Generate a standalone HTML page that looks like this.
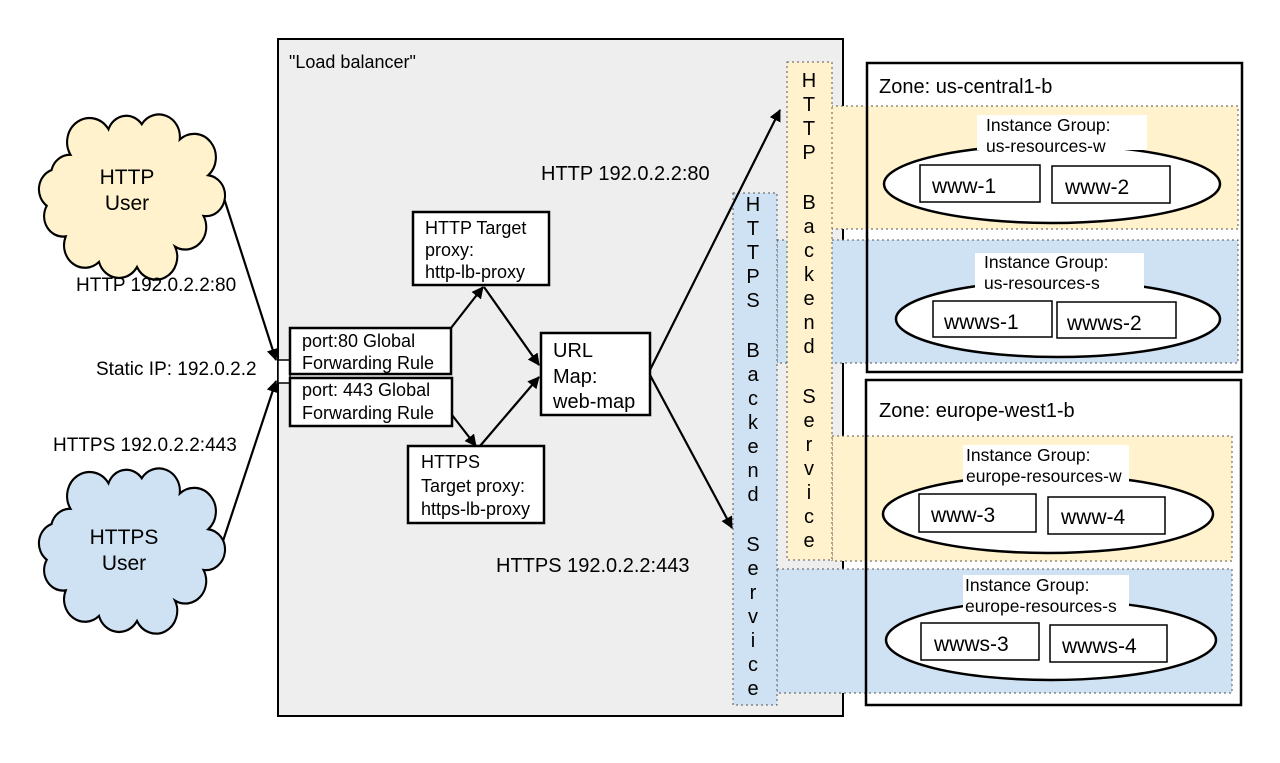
<!DOCTYPE html>
<html><head><meta charset="utf-8"><style>
html,body{margin:0;padding:0;background:#fff;}
svg{display:block;font-family:"Liberation Sans",Arial,sans-serif;}
</style></head><body>
<svg width="1280" height="763" viewBox="0 0 1280 763" xmlns="http://www.w3.org/2000/svg">
<defs>
<marker id="ah" markerWidth="12" markerHeight="12" refX="11" refY="6" orient="auto" markerUnits="userSpaceOnUse">
<path d="M0,0 L12,6 L0,12 z" fill="#000"/></marker>
<path id="cloud" d="M30,40 A22,22 0 0 1 70,15 A20,20 0 0 1 105,10 A22,22 0 0 1 145,25 A22,22 0 0 1 175,60 A20,20 0 0 1 170,100 A22,22 0 0 1 140,130 A22,22 0 0 1 100,150 A22,22 0 0 1 60,145 A22,22 0 0 1 25,120 A20,20 0 0 1 5,90 A20,20 0 0 1 10,55 A20,20 0 0 1 30,40 Z"/>
</defs>
<!-- load balancer -->
<rect x="278" y="39" width="565" height="677" fill="#eeeeee" stroke="#000" stroke-width="2"/>
<text x="289" y="68" font-size="18">"Load balancer"</text>

<!-- zones fill -->
<rect x="867" y="63" width="375" height="309" fill="#fff"/>
<rect x="866" y="380" width="375" height="325" fill="#fff"/>

<!-- bands -->
<rect x="826" y="106" width="412" height="123" fill="#fff2cc" stroke="#555" stroke-dasharray="2,3"/>
<rect x="777" y="240" width="461" height="123" fill="#cfe2f3" stroke="#555" stroke-dasharray="2,3"/>
<rect x="832" y="436" width="400" height="125" fill="#fff2cc" stroke="#555" stroke-dasharray="2,3"/>
<rect x="777" y="569" width="455" height="124" fill="#cfe2f3" stroke="#555" stroke-dasharray="2,3"/>

<!-- zone borders -->
<rect x="867" y="63" width="375" height="309" fill="none" stroke="#000" stroke-width="2.5"/>
<rect x="866" y="380" width="375" height="325" fill="none" stroke="#000" stroke-width="2.5"/>

<!-- strips -->
<rect x="733" y="193" width="44" height="512" fill="#cfe2f3" stroke="#555" stroke-dasharray="2,3"/>
<rect x="787" y="62" width="45" height="498" fill="#fff2cc" stroke="#555" stroke-dasharray="2,3"/>
<g font-size="20" text-anchor="middle">
<text x="809" y="87">H</text><text x="809" y="111">T</text><text x="809" y="135">T</text><text x="809" y="159">P</text>
<text x="809" y="209">B</text><text x="809" y="233">a</text><text x="809" y="257">c</text><text x="809" y="281">k</text><text x="809" y="305">e</text><text x="809" y="329">n</text><text x="809" y="353">d</text>
<text x="809" y="403">S</text><text x="809" y="427">e</text><text x="809" y="451">r</text><text x="809" y="475">v</text><text x="809" y="499">i</text><text x="809" y="523">c</text><text x="809" y="547">e</text>
<text x="753" y="211">H</text><text x="753" y="235">T</text><text x="753" y="259">T</text><text x="753" y="283">P</text><text x="753" y="307">S</text>
<text x="753" y="357">B</text><text x="753" y="381">a</text><text x="753" y="405">c</text><text x="753" y="429">k</text><text x="753" y="453">e</text><text x="753" y="477">n</text><text x="753" y="501">d</text>
<text x="753" y="551">S</text><text x="753" y="575">e</text><text x="753" y="599">r</text><text x="753" y="623">v</text><text x="753" y="647">i</text><text x="753" y="671">c</text><text x="753" y="695">e</text>
</g>

<text x="879" y="93" font-size="20">Zone: us-central1-b</text>
<text x="879" y="417" font-size="20">Zone: europe-west1-b</text>

<!-- instance groups -->
<g stroke="#000" stroke-width="2.5" fill="#fff">
<ellipse cx="1052" cy="184" rx="168" ry="39"/>
<ellipse cx="1058" cy="319" rx="162" ry="38"/>
<ellipse cx="1048" cy="514" rx="165" ry="39"/>
<ellipse cx="1051" cy="640" rx="165" ry="40"/>
</g>
<g fill="#fff">
<rect x="977" y="115" width="170" height="35"/>
<rect x="975" y="253" width="169" height="35"/>
<rect x="963" y="445" width="166" height="38"/>
<rect x="963" y="575" width="166" height="37"/>
</g>
<g font-size="17.5">
<text x="986" y="131">Instance Group:</text><text x="986" y="152">us-resources-w</text>
<text x="984" y="268">Instance Group:</text><text x="984" y="289">us-resources-s</text>
<text x="966" y="461">Instance Group:</text><text x="966" y="482">europe-resources-w</text>
<text x="965" y="591">Instance Group:</text><text x="965" y="612">europe-resources-s</text>
</g>
<g fill="#fff" stroke="#000" stroke-width="1.5">
<rect x="920" y="165" width="120" height="37"/><rect x="1052" y="166" width="118" height="37"/>
<rect x="933" y="301" width="119" height="36"/><rect x="1057" y="302" width="119" height="36"/>
<rect x="919" y="494" width="117" height="38"/><rect x="1048" y="497" width="117" height="37"/>
<rect x="921" y="623" width="118" height="37"/><rect x="1050" y="625" width="117" height="37"/>
</g>
<g font-size="21">
<text x="932" y="193">www-1</text><text x="1065" y="194">www-2</text>
<text x="944" y="329">wwws-1</text><text x="1067" y="330">wwws-2</text>
<text x="931" y="522">www-3</text><text x="1061" y="524">www-4</text>
<text x="934" y="651">wwws-3</text><text x="1062" y="653">wwws-4</text>
</g>

<!-- LB internals -->
<g fill="#fff" stroke="#000" stroke-width="2.5">
<rect x="278" y="360" width="12" height="23" stroke-width="1.5"/>
<rect x="290" y="328" width="161" height="46"/>
<rect x="290" y="378" width="162" height="48"/>
<rect x="413" y="212" width="136" height="73"/>
<rect x="541" y="333" width="109" height="82"/>
<rect x="408" y="446" width="136" height="77"/>
</g>
<g font-size="18">
<text x="302" y="347">port:80 Global</text><text x="302" y="369">Forwarding Rule</text>
<text x="302" y="396">port: 443 Global</text><text x="302" y="419">Forwarding Rule</text>
<text x="425" y="234">HTTP Target</text><text x="425" y="256">proxy:</text><text x="425" y="278">http-lb-proxy</text>
<text x="421" y="468">HTTPS</text><text x="421" y="492">Target proxy:</text><text x="421" y="515">https-lb-proxy</text>
</g>
<g font-size="20">
<text x="553" y="357">URL</text><text x="553" y="383">Map:</text><text x="553" y="408">web-map</text>
</g>
<text x="541" y="180" font-size="20">HTTP 192.0.2.2:80</text>
<text x="496" y="572" font-size="20">HTTPS 192.0.2.2:443</text>

<!-- arrows -->
<g stroke="#000" stroke-width="2.2" fill="none" marker-end="url(#ah)">
<line x1="451" y1="328" x2="483" y2="287"/>
<line x1="484" y1="287" x2="539" y2="365"/>
<line x1="452" y1="415" x2="476" y2="446"/>
<line x1="480" y1="446" x2="539" y2="377"/>
<line x1="650" y1="370" x2="780" y2="110"/>
<line x1="650" y1="375" x2="732" y2="528"/>
<line x1="222" y1="192" x2="276" y2="360"/>
<line x1="221" y1="547" x2="276" y2="381"/>
</g>

<!-- clouds -->
<use href="#cloud" transform="translate(42,114) scale(0.95,1.02)" fill="#fff2cc" stroke="#000" stroke-width="2.2"/>
<use href="#cloud" transform="translate(42,468) scale(0.95,1.02)" fill="#cfe2f3" stroke="#000" stroke-width="2.2"/>
<g font-size="21" text-anchor="middle">
<text x="127" y="184">HTTP</text><text x="127" y="210">User</text>
<text x="124" y="544">HTTPS</text><text x="124" y="570">User</text>
</g>
<g font-size="19">
<text x="76" y="291">HTTP 192.0.2.2:80</text>
<text x="96" y="375">Static IP: 192.0.2.2</text>
<text x="53" y="451">HTTPS 192.0.2.2:443</text>
</g>
</svg>
</body></html>
